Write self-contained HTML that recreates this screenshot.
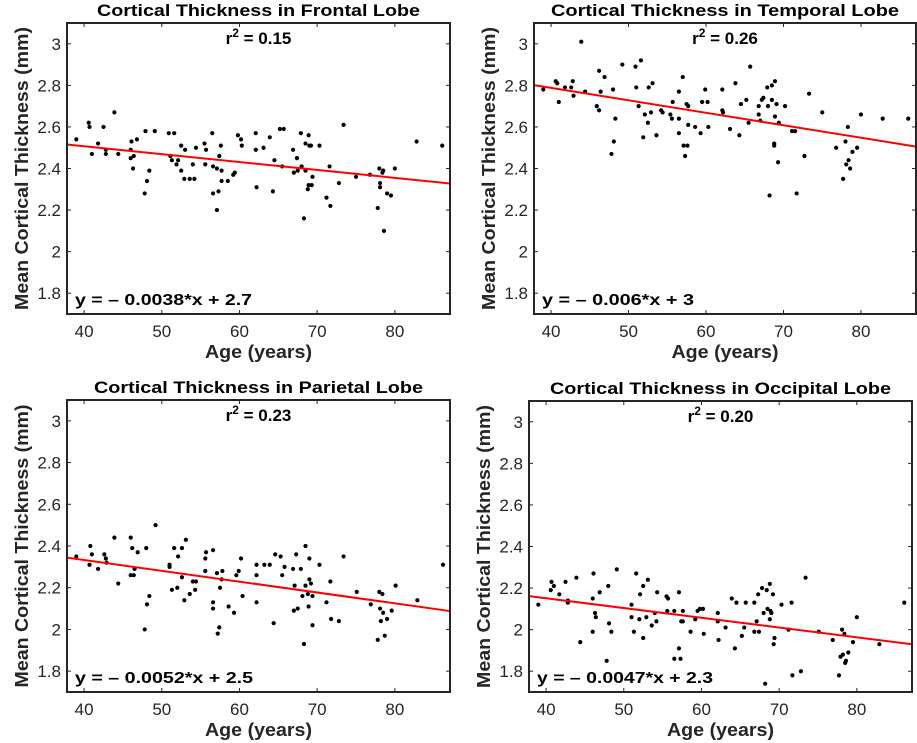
<!DOCTYPE html>
<html><head><meta charset="utf-8"><style>
html,body{margin:0;padding:0;background:#fff;}
svg{display:block;font-family:"Liberation Sans",sans-serif;}
</style></head><body>
<svg id="fig" width="917" height="743" viewBox="0 0 917 743" xmlns="http://www.w3.org/2000/svg"></svg>
<script>
const xTicks = [40, 50, 60, 70, 80];
const yTicks = [1.8, 2, 2.2, 2.4, 2.6, 2.8, 3];
const yTickLabels = ["1.8", "2", "2.2", "2.4", "2.6", "2.8", "3"];
const panelTitles = ["Cortical Thickness in Frontal Lobe","Cortical Thickness in Temporal Lobe","Cortical Thickness in Parietal Lobe","Cortical Thickness in Occipital Lobe"];
const r2Labels = ["0.15","0.26","0.23","0.20"];
const eqLabels = ["y = \u2013 0.0038*x + 2.7","y = \u2013 0.006*x + 3","y = \u2013 0.0052*x + 2.5","y = \u2013 0.0047*x + 2.3"];
const fitSlopes = [-0.0038, -0.006, -0.0052, -0.0047];
const fitIntercepts = [2.659, 3.028, 2.541, 2.339];
const frontalAge = [39.0,40.6,40.7,41.0,41.8,42.5,42.8,42.8,43.9,44.4,46.0,46.0,46.1,46.3,46.4,46.8,47.8,47.9,48.1,48.4,49.1,50.9,51.1,51.3,51.6,51.9,52.1,52.5,52.5,52.9,53.0,53.6,54.0,54.2,54.4,55.5,55.6,55.7,56.5,56.6,56.6,57.1,57.1,57.3,57.4,57.6,57.7,57.7,58.5,59.2,59.4,59.8,60.2,60.3,62.1,62.1,62.2,63.1,63.9,64.3,64.5,65.2,65.7,65.5,66.9,67.0,67.4,67.5,67.9,68.0,68.3,68.5,68.5,68.8,68.9,68.9,69.0,69.2,69.3,69.4,70.3,71.2,71.6,71.7,72.8,73.4,75.0,76.8,77.8,78.0,78.1,78.1,78.4,78.5,78.6,79.0,79.5,80.0,82.8,86.1];
const frontalThk = [2.54,2.62,2.60,2.47,2.52,2.60,2.49,2.47,2.67,2.47,2.49,2.45,2.53,2.40,2.46,2.54,2.28,2.58,2.34,2.39,2.58,2.57,2.46,2.44,2.57,2.42,2.44,2.51,2.39,2.35,2.49,2.35,2.42,2.35,2.50,2.52,2.42,2.49,2.57,2.28,2.41,2.40,2.20,2.29,2.46,2.51,2.34,2.39,2.34,2.37,2.38,2.56,2.54,2.51,2.57,2.49,2.31,2.50,2.55,2.29,2.44,2.59,2.59,2.41,2.49,2.38,2.45,2.39,2.57,2.41,2.16,2.39,2.52,2.30,2.32,2.56,2.51,2.51,2.32,2.36,2.51,2.26,2.41,2.22,2.33,2.61,2.36,2.37,2.21,2.40,2.33,2.31,2.38,2.39,2.10,2.28,2.27,2.40,2.53,2.51];
const temporalAge = [39.0,40.6,40.8,41.0,41.8,42.6,42.8,42.9,43.9,44.4,45.9,46.2,46.2,46.4,46.9,47.8,48.0,48.1,48.3,49.2,50.9,51.0,51.3,51.6,51.9,52.1,52.5,52.6,52.9,53.1,53.6,54.2,54.4,55.4,55.6,55.7,56.5,56.5,56.5,57.0,57.1,57.3,57.5,57.7,57.6,57.7,58.6,59.3,59.5,59.9,60.2,60.3,62.1,62.1,62.2,63.1,63.8,64.3,64.5,65.2,65.5,65.7,66.8,66.8,67.0,67.2,67.4,67.9,68.0,68.2,68.5,68.5,68.8,68.8,68.9,68.9,69.1,69.4,69.3,70.2,71.1,71.5,71.7,72.7,73.3,75.0,76.8,77.7,78.0,78.1,78.3,78.4,78.6,78.9,79.5,80.0,82.8,86.1];
const temporalThk = [2.78,2.82,2.81,2.72,2.79,2.79,2.82,2.75,3.01,2.77,2.70,2.87,2.68,2.77,2.84,2.47,2.78,2.53,2.64,2.90,2.89,2.79,2.70,2.92,2.55,2.66,2.62,2.79,2.67,2.81,2.56,2.68,2.67,2.66,2.64,2.72,2.57,2.64,2.77,2.84,2.51,2.46,2.71,2.70,2.51,2.61,2.60,2.57,2.72,2.78,2.72,2.60,2.78,2.68,2.67,2.59,2.81,2.56,2.71,2.73,2.62,2.89,2.70,2.66,2.63,2.73,2.74,2.79,2.70,2.27,2.80,2.73,2.52,2.51,2.82,2.65,2.71,2.62,2.43,2.70,2.58,2.58,2.28,2.46,2.76,2.67,2.50,2.35,2.53,2.42,2.60,2.44,2.40,2.48,2.50,2.66,2.64,2.64];
const parietalAge = [39.0,40.7,40.8,41.0,41.8,42.6,42.8,42.9,43.9,44.4,46.0,46.0,46.2,46.4,46.5,46.9,47.8,48.0,48.1,48.4,49.2,51.0,51.0,51.3,51.6,52.0,52.1,52.6,52.6,52.9,53.1,53.6,54.0,54.3,54.4,55.6,55.7,55.6,56.6,56.6,56.6,57.1,57.2,57.4,57.5,57.7,57.8,58.6,59.3,59.6,59.9,60.2,60.4,62.2,62.2,62.2,63.2,63.9,64.4,64.6,65.3,65.5,65.8,66.9,67.0,67.1,67.3,67.5,67.9,68.1,68.3,68.5,68.5,68.8,68.9,69.0,69.0,69.2,69.4,69.4,70.3,71.2,71.7,71.8,72.8,73.4,75.1,76.9,77.8,78.0,78.1,78.2,78.4,78.5,78.7,79.0,79.6,80.1,82.9,86.2];
const parietalThk = [2.35,2.31,2.40,2.36,2.29,2.36,2.34,2.32,2.44,2.22,2.44,2.26,2.39,2.26,2.29,2.37,2.00,2.39,2.12,2.16,2.50,2.31,2.30,2.19,2.39,2.20,2.35,2.25,2.39,2.14,2.43,2.17,2.23,2.19,2.23,2.34,2.37,2.28,2.38,2.13,2.10,2.27,1.98,2.01,2.20,2.24,2.28,2.11,2.08,2.26,2.28,2.34,2.16,2.26,2.31,2.13,2.31,2.31,2.03,2.36,2.35,2.26,2.30,2.29,2.09,2.21,2.36,2.10,2.29,2.16,1.93,2.40,2.21,2.17,2.11,2.34,2.24,2.22,2.02,2.16,2.31,2.13,2.23,2.05,2.04,2.35,2.18,2.12,1.95,2.18,2.10,2.04,2.17,2.08,1.97,2.05,2.09,2.21,2.14,2.31];
const occipitalAge = [39.0,40.6,40.7,41.0,41.7,42.5,42.8,42.8,43.9,44.4,46.0,46.0,46.1,46.3,46.4,46.9,47.8,48.0,48.1,48.4,49.1,51.0,51.0,51.3,51.6,52.0,52.1,52.5,52.5,52.9,53.1,53.6,54.0,54.2,54.3,55.5,55.7,55.6,56.5,56.5,57.1,57.1,57.3,57.4,57.6,57.6,58.6,59.2,59.5,59.8,60.2,60.3,62.1,62.1,62.2,63.1,63.9,64.3,64.5,65.2,65.5,65.7,66.8,66.8,67.1,67.3,67.4,67.8,68.0,68.2,68.4,68.5,68.8,68.8,68.9,69.0,69.2,69.3,69.4,70.3,71.2,71.6,71.7,72.8,73.4,75.1,76.9,77.7,77.9,78.1,78.2,78.4,78.5,78.6,78.9,79.5,80.0,82.9,86.1];
const occipitalThk = [2.12,2.19,2.23,2.21,2.17,2.23,2.14,2.13,2.25,1.94,1.99,2.15,2.27,2.08,2.06,2.18,1.85,2.21,2.03,1.99,2.29,2.12,2.06,1.99,2.27,2.05,2.17,1.96,2.21,2.06,2.24,2.02,2.08,2.04,2.18,2.16,2.15,2.09,2.09,1.86,2.18,1.91,1.86,2.04,2.04,2.09,1.99,2.05,2.09,2.10,2.10,1.98,2.08,2.04,1.95,2.01,2.15,1.91,2.13,1.97,2.01,2.13,2.13,1.99,2.04,2.17,1.99,2.20,2.08,1.74,2.19,2.10,2.22,2.05,2.09,2.08,2.17,1.93,1.96,2.12,2.00,2.13,1.78,1.80,2.25,1.99,1.95,1.78,1.87,2.00,1.88,1.98,1.84,1.85,1.89,1.94,2.06,1.93,2.13];

const ages = [frontalAge, temporalAge, parietalAge, occipitalAge];
const thks = [frontalThk, temporalThk, parietalThk, occipitalThk];
const names = ["frontal","temporal","parietal","occipital"];
const titleLens = [323, 348, 329, 341];
const eqLens = [177, 152, 178, 176];
const r2Lens = [84, 84, 84, 84];
const boxes = [
  {l:67,r:450,t:23,b:314,ylab:22},
  {l:534,r:916,t:23,b:314,ylab:489},
  {l:67,r:450,t:400,b:692,ylab:22},
  {l:529,r:912,t:401,b:692,ylab:484}
];
const XMIN=37.8, XMAX=87.1, YMIN=1.7, YMAX=3.1;
const NS="http://www.w3.org/2000/svg";
const svg=document.getElementById('fig');
function mk(tag, attrs, parent){
  const e=document.createElementNS(NS,tag);
  for(const k in attrs) e.setAttribute(k,attrs[k]);
  (parent||svg).appendChild(e); return e;
}
boxes.forEach((B,p)=>{
  const sx=v=>B.l+(v-XMIN)/(XMAX-XMIN)*(B.r-B.l);
  const sy=v=>B.b-(v-YMIN)/(YMAX-YMIN)*(B.b-B.t);
  const g=mk('g',{});
  
  
  const cx=(B.l+B.r)/2;
  const t=mk('text',{x:cx,y:B.t-7,'text-anchor':'middle','font-size':'17','font-weight':'bold',fill:'#000',textLength:titleLens[p],lengthAdjust:'spacingAndGlyphs'},g);
  t.textContent=panelTitles[p];
  
  
  xTicks.forEach(v=>{
    const x=sx(v);
    mk('line',{x1:x,x2:x,y1:B.b,y2:B.b-4,stroke:'#262626','stroke-width':1},g);
    mk('line',{x1:x,x2:x,y1:B.t,y2:B.t+4,stroke:'#262626','stroke-width':1},g);
    const tl=mk('text',{x:x,y:B.b+23,'text-anchor':'middle','font-size':'17',fill:'#262626'},g);
    tl.textContent=String(v);
    
    
  });
  yTicks.forEach((v,i)=>{
    const y=sy(v);
    mk('line',{x1:B.l,x2:B.l+4,y1:y,y2:y,stroke:'#262626','stroke-width':1},g);
    mk('line',{x1:B.r,x2:B.r-4,y1:y,y2:y,stroke:'#262626','stroke-width':1},g);
    const tl=mk('text',{x:B.l-6,y:y+6,'text-anchor':'end','font-size':'17',fill:'#262626'},g);
    tl.textContent=yTickLabels[i];
    
    
  });
  const xl=mk('text',{x:cx,y:B.b+44,'text-anchor':'middle','font-size':'18','font-weight':'bold',fill:'#262626',textLength:107,lengthAdjust:'spacingAndGlyphs'},g);
  xl.textContent='Age (years)';
  
  
  const ym=(B.t+B.b)/2;
  const yl=mk('text',{x:B.ylab+6,y:ym,'text-anchor':'middle','font-size':'18','font-weight':'bold',fill:'#262626',textLength:283,lengthAdjust:'spacingAndGlyphs',transform:`rotate(-90 ${B.ylab+6} ${ym})`},g);
  yl.textContent='Mean Cortical Thickness (mm)';
  
  
  ages[p].forEach((a,i)=>{
    const c=mk('circle',{cx:sx(a),cy:sy(thks[p][i]),r:2.1,fill:'#000'},g);
    
    
  });
  const f=v=>fitIntercepts[p]+fitSlopes[p]*v;
  const ln=mk('line',{x1:sx(XMIN),y1:sy(f(XMIN)),x2:sx(XMAX),y2:sy(f(XMAX)),stroke:'#ff0000','stroke-width':2},g);
  
  
  const r=mk('rect',{x:B.l,y:B.t,width:B.r-B.l,height:B.b-B.t,fill:'none',stroke:'#262626','stroke-width':2},g);
  
  
  const rt=mk('text',{x:cx,y:B.t+21,'text-anchor':'middle','font-size':'17','font-weight':'bold',fill:'#000'},g);
  
  
  const t1=mk('tspan',{},rt); t1.textContent='r';
  const t2=mk('tspan',{dy:'-7','font-size':'12'},rt); t2.textContent='2';
  const t3=mk('tspan',{dy:'7'},rt); t3.textContent=' = '+r2Labels[p];
  const eq=mk('text',{x:B.l+8,y:B.b-9,'font-size':'16','font-weight':'bold',fill:'#000',textLength:eqLens[p],lengthAdjust:'spacingAndGlyphs'},g);
  eq.textContent=eqLabels[p];
  
  
});
</script>
</body></html>
